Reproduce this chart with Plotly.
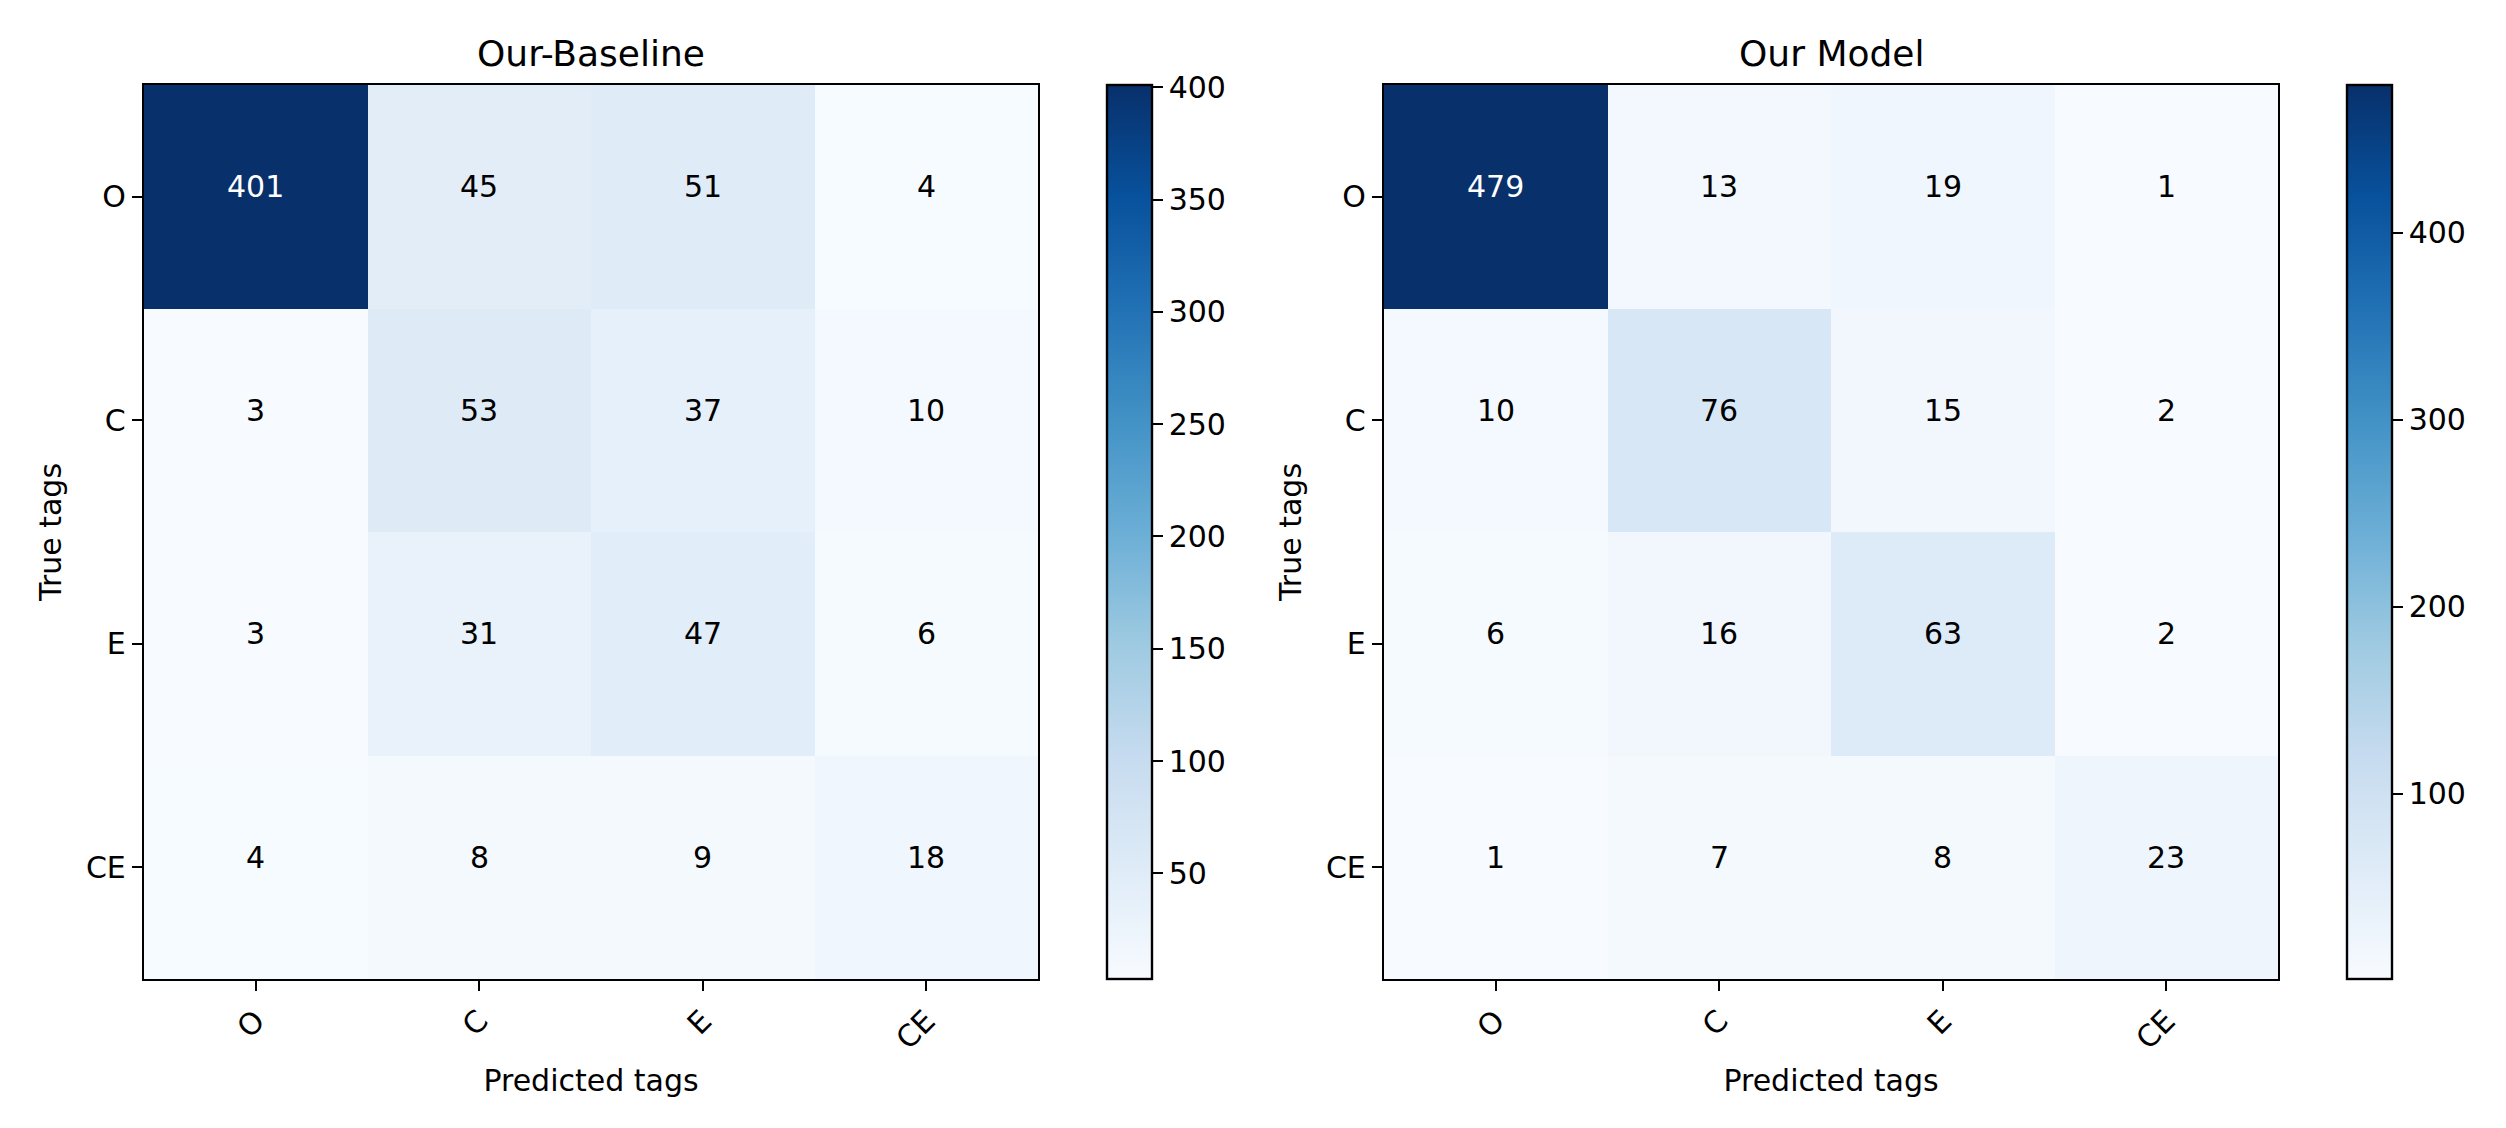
import plotly.graph_objects as go

categories = ["O", "C", "E", "CE"]
baseline_values = [
    [401, 45, 51, 4],
    [3, 53, 37, 10],
    [3, 31, 47, 6],
    [4, 8, 9, 18],
]
model_values = [
    [479, 13, 19, 1],
    [10, 76, 15, 2],
    [6, 16, 63, 2],
    [1, 7, 8, 23],
]
panel_titles = ["Our-Baseline", "Our Model"]
baseline_cbar_ticks = [50, 100, 150, 200, 250, 300, 350, 400]
model_cbar_ticks = [100, 200, 300, 400]

W, H = 2506, 1128
FONT = "DejaVu Sans"
blues = ['rgb(247,251,255)', 'rgb(222,235,247)', 'rgb(198,219,239)', 'rgb(158,202,225)',
         'rgb(107,174,214)', 'rgb(66,146,198)', 'rgb(33,113,181)', 'rgb(8,81,156)', 'rgb(8,48,107)']
colorscale = [[i / (len(blues) - 1), c] for i, c in enumerate(blues)]

# pixel geometry
ax_left = [144, 1384]
ax_w = 894
ax_top, ax_bot = 85, 979
cb_left = [1107, 2347]
cb_w = 45

def px(x):
    return x / W

def py(y):
    return 1 - y / H

fig = go.Figure()
panels = [(baseline_values, baseline_cbar_ticks), (model_values, model_cbar_ticks)]
annotations = []
for i, (vals, cticks) in enumerate(panels):
    xa = "x" if i == 0 else "x2"
    ya = "y" if i == 0 else "y2"
    flat = [v for row in vals for v in row]
    zmin, zmax = min(flat), max(flat)
    fig.add_trace(go.Heatmap(
        z=vals, x=categories, y=categories, xaxis=xa, yaxis=ya,
        colorscale=colorscale, zmin=zmin, zmax=zmax, hoverinfo="skip",
        colorbar=dict(
            x=px(cb_left[i]), xanchor="left", xpad=0, ypad=0,
            y=py((ax_top + ax_bot) / 2), yanchor="middle",
            thicknessmode="pixels", thickness=cb_w,
            lenmode="pixels", len=ax_bot - ax_top,
            outlinewidth=2.4, outlinecolor="black",
            tickmode="array", tickvals=cticks,
            ticks="outside", ticklen=10, tickwidth=2.4, tickcolor="black",
            tickfont=dict(family=FONT, size=30, color="black"),
        ),
    ))
    thresh = zmax / 2
    for r, row in enumerate(vals):
        for c, v in enumerate(row):
            annotations.append(dict(
                x=categories[c], y=categories[r], xref=xa, yref=ya,
                text=str(v), showarrow=False, yshift=10,
                font=dict(family=FONT, size=30, color="white" if v > thresh else "black"),
            ))
    annotations.append(dict(
        x=px(ax_left[i] + ax_w / 2), y=py(76), xref="paper", yref="paper",
        text=panel_titles[i], showarrow=False, xanchor="center", yanchor="bottom",
        font=dict(family=FONT, size=36, color="black"),
    ))

axis_common = dict(
    showline=True, mirror=True, linecolor="black", linewidth=2.4,
    ticks="outside", ticklen=10, tickwidth=2.4, tickcolor="black",
    tickfont=dict(family=FONT, size=30, color="black"),
    showgrid=False, zeroline=False,
)
for i in range(2):
    xkey = "xaxis" if i == 0 else "xaxis2"
    ykey = "yaxis" if i == 0 else "yaxis2"
    fig.update_layout(**{
        xkey: dict(axis_common,
                   domain=[px(ax_left[i]), px(ax_left[i] + ax_w)],
                   anchor="y" if i == 0 else "y2",
                   range=[-0.5, 3.5], tickangle=-45,
                   title=dict(text="Predicted tags", font=dict(family=FONT, size=30, color="black"), standoff=15)),
        ykey: dict(axis_common,
                   domain=[py(ax_bot), py(ax_top)],
                   anchor="x" if i == 0 else "x2",
                   range=[3.5, -0.5],
                   title=dict(text="True tags", font=dict(family=FONT, size=30, color="black"), standoff=15)),
    })

fig.update_layout(
    width=W, height=H, margin=dict(l=0, r=0, t=0, b=0),
    paper_bgcolor="white", plot_bgcolor="white",
    annotations=annotations, showlegend=False,
    font=dict(family=FONT, size=30, color="black"),
)
fig.write_html("out.html", config={"displayModeBar": False},
               post_script="document.body.style.margin='0px';")
